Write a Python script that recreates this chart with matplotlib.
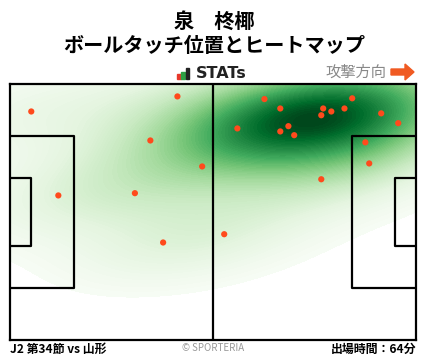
import numpy as np
import matplotlib
matplotlib.use("Agg")
import matplotlib.pyplot as plt
import matplotlib.patches as patches
import seaborn as sns

plt.rcParams['font.family'] = ['Noto Sans CJK JP', 'DejaVu Sans']

# ========================================================= #
# ===  data                                             === #
# ========================================================= #
title_name  = "泉　柊椰"
title_sub   = "ボールタッチ位置とヒートマップ"
match_label = "J2 第34節 vs 山形"
play_time   = "出場時間：64分"

# touch positions (pitch coords, 105 x 68, attack to the right)
touch_x = [ 5.5, 43.3, 36.3, 49.7, 12.5, 32.3, 39.6, 55.4,
            65.8, 69.9, 81.0, 80.5, 83.1, 86.5, 88.5, 96.0,
            100.4, 58.8, 72.0, 69.9, 73.5, 91.9, 92.9, 80.5 ]
touch_y = [ 60.7, 64.7, 53.0, 46.1, 38.4, 39.0, 25.9, 28.1,
            64.0, 61.5, 61.5, 59.7, 60.7, 61.5, 64.2, 60.2,
            57.6, 56.2, 56.8, 55.4, 54.4, 52.5, 46.9, 42.7 ]

# ========================================================= #
# ===  figure                                           === #
# ========================================================= #
W, H = 428, 359
fig = plt.figure( figsize=(W/100, H/100), dpi=100 )
ax  = fig.add_axes( [ 10/W, (H-340)/H, 406/W, 256/H ] )

# --- heatmap --- #
sns.kdeplot( x=touch_x, y=touch_y, fill=True, cmap="Greens", levels=80,
             thresh=0.03, bw_adjust=1.3, ax=ax, zorder=1 )

# --- pitch lines --- #
lc, lw = "black", 1.6
ax.plot( [52.5, 52.5], [0, 68], color=lc, lw=lw, zorder=3 )
for x0, sgn in [ (0.0, 1), (105.0, -1) ]:
    ax.plot( [x0, x0+sgn*16.5, x0+sgn*16.5, x0],
             [34-20.16, 34-20.16, 34+20.16, 34+20.16], color=lc, lw=lw, zorder=3 )
    ax.plot( [x0, x0+sgn*5.5, x0+sgn*5.5, x0],
             [34-9.16, 34-9.16, 34+9.16, 34+9.16], color=lc, lw=lw, zorder=3 )

# --- touches --- #
ax.scatter( touch_x, touch_y, s=20, color="#ff4a1c", edgecolors="none", zorder=4 )

ax.set_xlim( 0, 105 )
ax.set_ylim( 0, 68 )
ax.set_xticks( [] ); ax.set_yticks( [] )
ax.set_xlabel( "" ); ax.set_ylabel( "" )
for sp in ax.spines.values():
    sp.set_color( "black" ); sp.set_linewidth( 1.6 ); sp.set_zorder( 5 )

# --- titles --- #
fig.text( 214/W, 1-21/H, title_name, ha="center", va="center",
          fontsize=14.5, fontweight="bold" )
fig.text( 214/W, 1-46/H, title_sub, ha="center", va="center",
          fontsize=14.5, fontweight="bold" )

# --- STATs logo --- #
for (x0, w, h, c) in [ (177, 3.5, 5, "#e8382b"), (181, 3.5, 7, "#2e9e44"),
                        (185.5, 3.5, 11, "#222222") ]:
    fig.patches.append( patches.Rectangle( (x0/W, 1-79/H), w/W, h/H,
                        transform=fig.transFigure, color=c ) )
fig.text( 196/W, 1-73.5/H, "STATs", ha="left", va="center",
          fontsize=11.5, fontweight="bold", color="#222222", family="DejaVu Sans",
          fontstretch="expanded" )

# --- attack direction --- #
fig.text( 386/W, 1-72/H, "攻撃方向", ha="right", va="center",
          fontsize=11, color="#888888" )
fig.patches.append( patches.FancyArrow( 391/W, 1-72/H, 23/W, 0,
                    width=6/H, head_width=16/H, head_length=9/W,
                    length_includes_head=True, transform=fig.transFigure,
                    color="#f05a22" ) )

# --- footer --- #
fig.text( 10/W, 1-349/H, match_label, ha="left", va="center",
          fontsize=8.6, fontweight="bold" )
fig.text( 213/W, 1-348/H, "© SPORTERIA", ha="center", va="center",
          fontsize=7, color="#999999" )
fig.text( 416/W, 1-349/H, play_time, ha="right", va="center",
          fontsize=8.6, fontweight="bold" )

fig.savefig( "out.png", dpi=100 )
